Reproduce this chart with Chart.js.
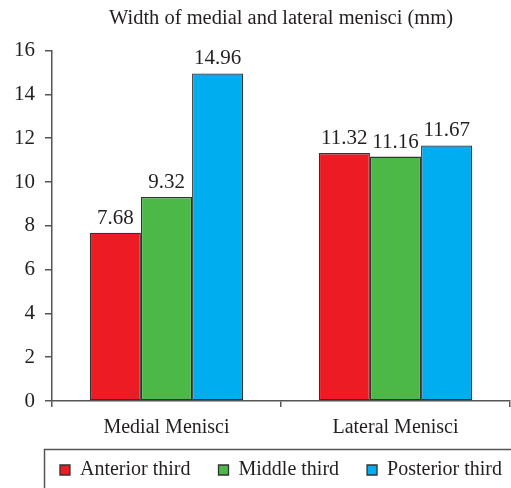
<!DOCTYPE html>
<html>
<head>
<meta charset="utf-8">
<script src="https://cdn.jsdelivr.net/npm/chart.js@4/dist/chart.umd.min.js"></script>
<style>
html,body{margin:0;padding:0;background:#fff;}
#wrap{width:511px;height:488px;}
</style>
</head>
<body>
<div id="wrap"><canvas id="c" width="511" height="488"></canvas></div>
<script>
const categories = ["Medial Menisci", "Lateral Menisci"];
const anteriorThird = [7.68, 11.32];
const middleThird = [9.32, 11.16];
const posteriorThird = [14.96, 11.67];
const seriesNames = ["Anterior third", "Middle third", "Posterior third"];
const yTicks = [0, 2, 4, 6, 8, 10, 12, 14, 16];

const FONT = "'Liberation Serif', 'Times New Roman', serif";
const TXT = "#231f20";
const AXIS = "#555555";

const valueLabels = {
  id: 'valueLabels',
  afterDatasetsDraw(chart) {
    const ctx = chart.ctx;
    ctx.save();
    ctx.font = "21px " + FONT;
    ctx.fillStyle = TXT;
    ctx.textAlign = 'center';
    ctx.textBaseline = 'alphabetic';
    chart.data.datasets.forEach((ds, i) => {
      chart.getDatasetMeta(i).data.forEach((bar, j) => {
        ctx.fillText(ds.data[j].toFixed(2), bar.x, bar.y - 9);
      });
    });
    ctx.restore();
  }
};

// center the legend row under the plot area instead of the whole canvas
const legendShift = {
  id: 'legendShift',
  afterLayout(chart) {
    const lg = chart.legend;
    if (!lg) return;
    const target = (chart.chartArea.left + chart.chartArea.right) / 2;
    const cur = (lg.left + lg.right) / 2;
    const d = target - cur;
    lg.left += d; lg.right += d;
    lg.top -= 4; lg.bottom -= 4;
  }
};

const legendFrame = {
  id: 'legendFrame',
  afterDraw(chart) {
    const ctx = chart.ctx;
    ctx.save();
    ctx.strokeStyle = AXIS;
    ctx.lineWidth = 1.5;
    ctx.beginPath();
    ctx.moveTo(44.5, 520);
    ctx.lineTo(44.5, 449.5);
    ctx.lineTo(520, 449.5);
    ctx.stroke();
    ctx.restore();
  }
};

new Chart(document.getElementById('c'), {
  type: 'bar',
  data: {
    labels: categories,
    datasets: [
      {label: seriesNames[0], data: anteriorThird, backgroundColor: '#ed1c24'},
      {label: seriesNames[1], data: middleThird, backgroundColor: '#4cb848'},
      {label: seriesNames[2], data: posteriorThird, backgroundColor: '#00adee'}
    ].map(d => Object.assign(d, {borderColor: '#333333', borderWidth: 1.3, borderSkipped: false}))
  },
  options: {
    responsive: false,
    animation: false,
    devicePixelRatio: 1,
    layout: {padding: {left: 0, right: 1, top: 0, bottom: -6}},
    datasets: {bar: {categoryPercentage: 0.67, barPercentage: 1.0}},
    plugins: {
      title: {
        display: true,
        fullSize: false,
        text: 'Width of medial and lateral menisci (mm)',
        color: TXT,
        font: {family: FONT, size: 20.5, weight: 'normal', lineHeight: 1.2},
        padding: {top: 6, bottom: 20}
      },
      legend: {
        display: true,
        position: 'bottom',
        fullSize: true,
        labels: {
          boxWidth: 10, boxHeight: 10, padding: 28,
          color: TXT,
          font: {family: FONT, size: 20, lineHeight: 1.0}
        }
      },
      tooltip: {enabled: false}
    },
    scales: {
      x: {
        offset: true,
        afterFit(scale) { scale.height = 35; },
        grid: {offset: true, drawOnChartArea: false, drawTicks: true, tickLength: 6, color: AXIS, lineWidth: 1.5},
        border: {display: true, color: AXIS, width: 1.5},
        ticks: {color: TXT, padding: 9, font: {family: FONT, size: 20, lineHeight: 1.2}}
      },
      y: {
        min: 0, max: 16,
        afterFit(scale) { scale.width = 52; },
        afterBuildTicks(scale) { scale.ticks = yTicks.map(v => ({value: v})); },
        grid: {drawOnChartArea: false, drawTicks: true, tickLength: 7, color: AXIS, lineWidth: 1.5},
        border: {display: true, color: AXIS, width: 1.5},
        ticks: {color: TXT, padding: 10, font: {family: FONT, size: 21, lineHeight: 1.2}}
      }
    }
  },
  plugins: [valueLabels, legendShift, legendFrame]
});
</script>
</body>
</html>
